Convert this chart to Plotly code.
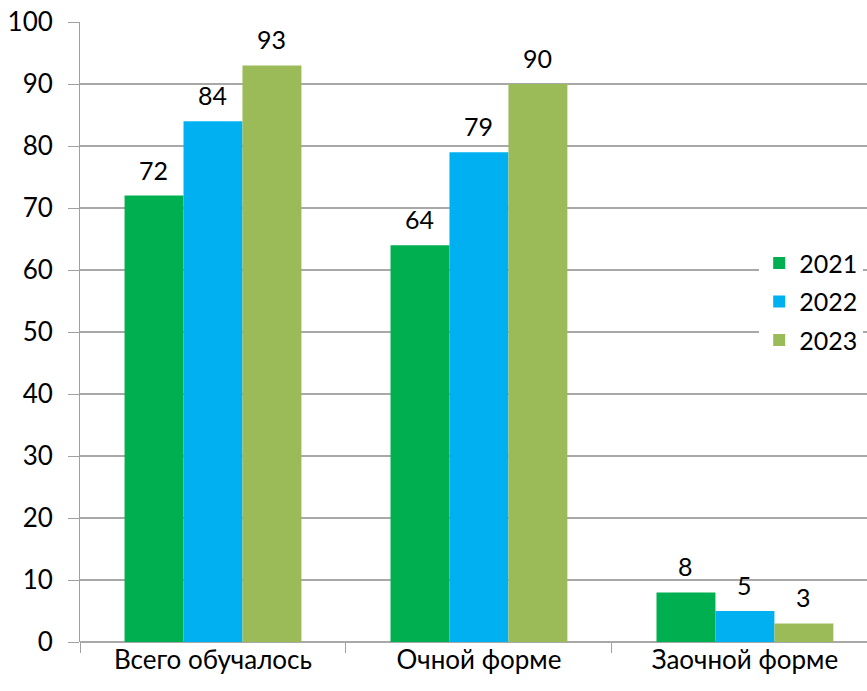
import plotly.graph_objects as go

categories = ["Всего обучалось", "Очной форме", "Заочной форме"]
years = ["2021", "2022", "2023"]
values_2021 = [72, 64, 8]
values_2022 = [84, 79, 5]
values_2023 = [93, 90, 3]
colors = ["#00B050", "#00B0F0", "#9BBB59"]
y_ticks = [0, 10, 20, 30, 40, 50, 60, 70, 80, 90, 100]

series = [values_2021, values_2022, values_2023]
FONT = "Lato"
BAR_PX = 59  # approx pixel width of one bar

fig = go.Figure()
for i, (name, vals, col) in enumerate(zip(years, series, colors)):
    fig.add_trace(go.Bar(
        x=categories, y=vals, name=name, marker_color=col,
        marker_line_width=0, legendgroup=name,
    ))
    for c, v in zip(categories, vals):
        fig.add_annotation(
            x=c, y=v, xref="x", yref="y", text=str(v), showarrow=False,
            xshift=(i - 1) * BAR_PX, yshift=9, yanchor="bottom",
            font=dict(size=25, color="#000000", family=FONT),
        )

fig.update_layout(
    width=867, height=691,
    margin=dict(l=80, r=0, t=22, b=49, autoexpand=False),
    paper_bgcolor="white", plot_bgcolor="white",
    barmode="group", bargap=0.335, bargroupgap=0,
    font=dict(family=FONT, size=24, color="#000000"),
    legend=dict(
        x=0.863, y=0.648, xanchor="left", yanchor="top",
        bgcolor="white", font=dict(size=25, family=FONT),
        borderwidth=0, itemwidth=30, tracegroupgap=3,
    ),
    showlegend=True,
)
fig.update_xaxes(
    range=[-0.5, 2.459], tickson="boundaries", ticks="outside", ticklen=10,
    tickcolor="#A0A0A0", showline=False, showgrid=False, automargin=False,
    tickfont=dict(size=26, family=FONT), ticklabeloverflow="allow",
)
fig.update_yaxes(
    range=[0, 100], tickvals=y_ticks, ticks="outside", ticklen=11,
    tickcolor="#A0A0A0", showline=True, linecolor="#A0A0A0", linewidth=1,
    showgrid=True, gridcolor="#A8A8A8", gridwidth=2, automargin=False,
    zeroline=True, zerolinecolor="#A8A8A8", zerolinewidth=2,
    tickfont=dict(size=26, family=FONT), ticklabelstandoff=10,
    ticklabeloverflow="allow",
)

fig.write_html(
    "out.html",
    config={"displayModeBar": False},
    post_script="document.body.style.margin='0';document.body.style.overflow='hidden';",
)
